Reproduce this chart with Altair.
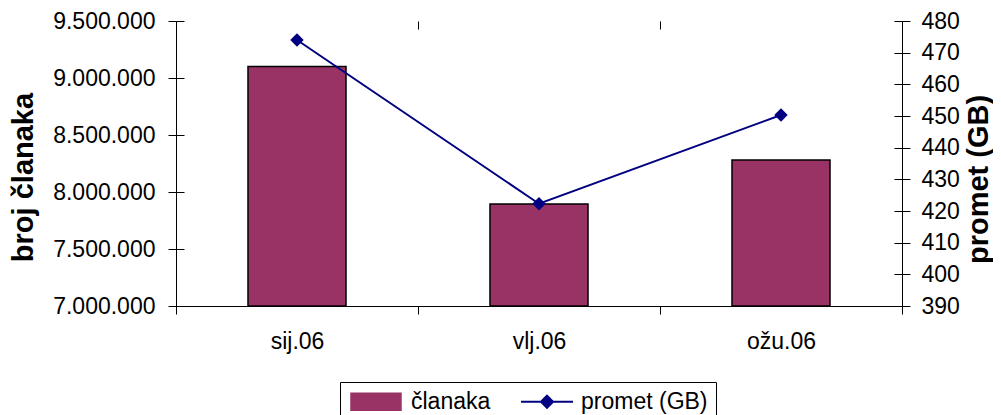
import altair as alt
import pandas as pd

months = ["sij.06", "vlj.06", "ožu.06"]
clanaka = [9100000, 7895000, 8280000]
promet = [474.0, 422.3, 450.3]
left_ticks = [7000000, 7500000, 8000000, 8500000, 9000000, 9500000]
right_ticks = [390, 400, 410, 420, 430, 440, 450, 460, 470, 480]
series = ["članaka", "promet (GB)"]

df = pd.DataFrame({"month": months, "clanaka": clanaka, "promet": promet})

FONT = "Liberation Sans"
BAR = "#993366"
LINE = "#000080"

bar_path = "M-1,-1H4.88V1H-1Z"
line_path = "M-1,0H5.12M2.06,-0.71L2.77,0L2.06,0.71L1.35,0Z"
is_bar = "datum.value === '" + series[0] + "'"

legend = alt.Legend(
    title=None,
    orient="none",
    legendX=164,
    legendY=361,
    direction="horizontal",
    strokeColor="black",
    padding=8,
    labelFont=FONT,
    labelFontSize=23,
    labelColor="black",
    labelOffset=40,
    symbolSize=289,
    columnPadding=26,
    symbolType=alt.ExprRef(expr=f"{is_bar} ? '{bar_path}' : '{line_path}'"),
    symbolFillColor=alt.ExprRef(expr=f"{is_bar} ? '{BAR}' : '{LINE}'"),
    symbolStrokeColor=alt.ExprRef(expr=f"{is_bar} ? 'black' : '{LINE}'"),
    symbolStrokeWidth=alt.ExprRef(expr=f"{is_bar} ? 1.5 : 2"),
    symbolOpacity=1,
)

color_scale = alt.Scale(domain=series, range=[BAR, LINE])

# short dashed "grid" lines draw the inner half of each crossing tick
inner_tick = dict(grid=True, gridDash=[8, 3000], gridColor="black", gridWidth=1, gridOpacity=1)

x_enc = alt.X(
    "month:N",
    sort=months,
    title=None,
    scale=alt.Scale(paddingInner=0, paddingOuter=0),
    axis=alt.Axis(
        labelAngle=0,
        tickBand="extent",
        tickSize=8,
        labelPadding=16,
        **inner_tick,
    ),
)

bars = (
    alt.Chart(df)
    .transform_calculate(series=f"'{series[0]}'")
    .mark_bar(width={"band": 0.405}, stroke="black", strokeWidth=1.5)
    .encode(
        x=x_enc,
        y=alt.Y(
            "clanaka:Q",
            scale=alt.Scale(domain=[7000000, 9500000], nice=False, zero=False),
            axis=alt.Axis(
                orient="left",
                title="broj članaka",
                values=left_ticks,
                labelExpr="join(split(format(datum.value, ','), ','), '.')",
                tickSize=8,
                labelPadding=13,
                titleFontSize=29,
                titleX=-144,
                titleY=156,
                titleBaseline="alphabetic",
                titleAlign="center",
                titleAngle=270,
                **inner_tick,
            ),
        ),
        y2=alt.datum(7000000),
        color=alt.Color("series:N", scale=color_scale, legend=legend),
    )
)

line = (
    alt.Chart(df)
    .transform_calculate(series=f"'{series[1]}'")
    .mark_line(
        strokeWidth=2,
        point=alt.OverlayMarkDef(shape="diamond", size=180, filled=True, color=LINE),
    )
    .encode(
        x=alt.X("month:N", sort=months),
        y=alt.Y(
            "promet:Q",
            scale=alt.Scale(domain=[390, 480], nice=False, zero=False),
            axis=alt.Axis(
                orient="right",
                title="promet (GB)",
                values=right_ticks,
                tickSize=8,
                labelPadding=11,
                titleFontSize=29,
                titleX=85,
                titleY=158,
                titleBaseline="alphabetic",
                titleAlign="center",
                titleAngle=270,
                **inner_tick,
            ),
        ),
        color=alt.Color("series:N", scale=color_scale, legend=legend),
    )
)

chart = (
    alt.layer(bars, line)
    .resolve_scale(y="independent")
    .properties(
        width=726,
        height=285,
        autosize=alt.AutoSizeParams(type="none"),
        padding={"left": 168, "top": 13, "right": 91, "bottom": 120},
    )
    .configure_view(stroke=None)
    .configure_axis(
        grid=False,
        labelFont=FONT,
        labelFontSize=23,
        labelColor="black",
        titleFont=FONT,
        titleFontWeight="bold",
        titleColor="black",
        domainColor="black",
        domainWidth=1,
        tickColor="black",
        tickWidth=1,
    )
)

chart.save("out.html", embed_options={"renderer": "svg", "actions": False})
